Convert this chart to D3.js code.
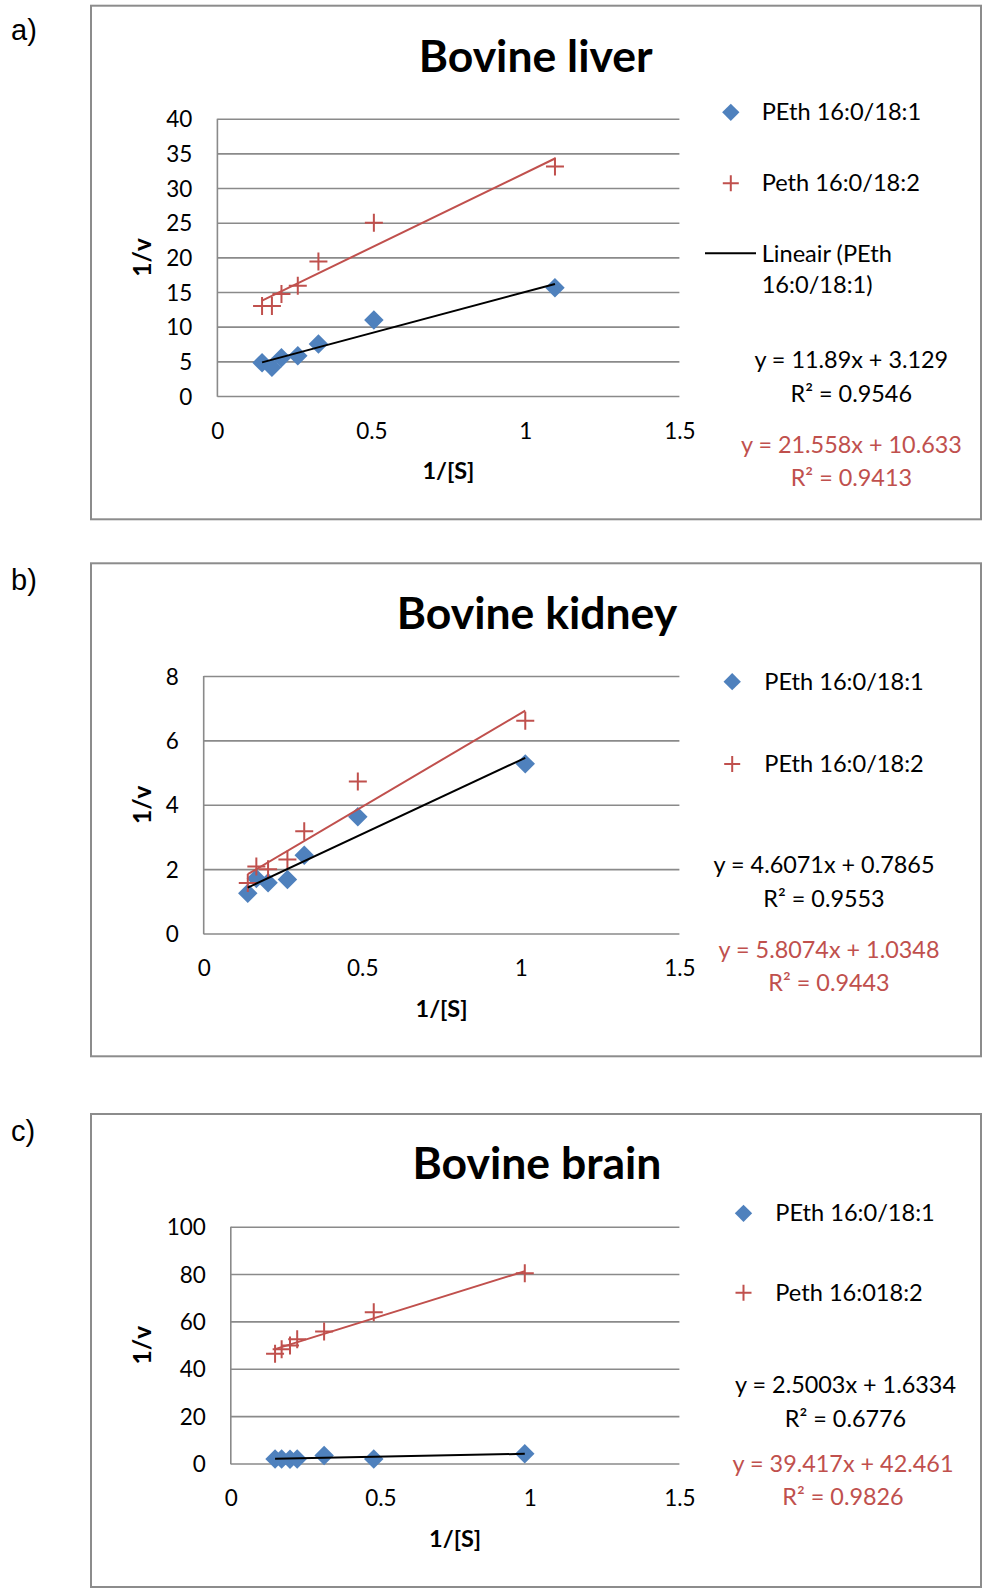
<!DOCTYPE html>
<html><head><meta charset="utf-8">
<script src="https://cdn.jsdelivr.net/npm/d3@7"></script>
<style>body{margin:0;background:#fff}svg{display:block}</style>
</head><body>
<svg id="chart" width="985" height="1591"></svg>
<script>
// ---------------- DATA ----------------
const panelLabels = ["a)", "b)", "c)"];
const titles = ["Bovine liver", "Bovine kidney", "Bovine brain"];
const xTickValues = [0, 0.5, 1, 1.5];
const xAxisTitle = "1/[S]";
const yAxisTitle = "1/v";

const liverYTicks = [0, 5, 10, 15, 20, 25, 30, 35, 40];
const liverX = [0.145, 0.177, 0.208, 0.261, 0.328, 0.508, 1.096];
const liverBlue = [4.8, 4.13, 5.5, 5.8, 7.5, 10.96, 15.6];
const liverRed = [13.0, 13.0, 14.7, 15.9, 19.4, 25.0, 33.1];
const liverFitBlue = [11.89, 3.129];
const liverFitRed = [21.558, 10.633];
const liverLegend = ["PEth 16:0/18:1", "Peth 16:0/18:2", "Lineair (PEth", "16:0/18:1)"];
const liverEqBlue = ["y = 11.89x + 3.129", "R² = 0.9546"];
const liverEqRed = ["y = 21.558x + 10.633", "R² = 0.9413"];

const kidneyYTicks = [0, 2, 4, 6, 8];
const kidneyX = [0.139, 0.166, 0.203, 0.264, 0.317, 0.486, 1.014];
const kidneyBlue = [1.25, 1.71, 1.58, 1.68, 2.43, 3.63, 5.27];
const kidneyRed = [1.57, 2.08, 2.0, 2.3, 3.18, 4.72, 6.61];
const kidneyFitBlue = [4.6071, 0.7865];
const kidneyFitRed = [5.8074, 1.0348];
const kidneyLegend = ["PEth 16:0/18:1", "PEth 16:0/18:2"];
const kidneyEqBlue = ["y = 4.6071x + 0.7865", "R² = 0.9553"];
const kidneyEqRed = ["y = 5.8074x + 1.0348", "R² = 0.9443"];

const brainYTicks = [0, 20, 40, 60, 80, 100];
const brainX = [0.148, 0.170, 0.198, 0.222, 0.312, 0.478, 0.983];
const brainBlue = [1.9, 1.9, 1.8, 1.9, 3.4, 1.9, 4.1];
const brainRed = [46.3, 48.2, 49.8, 52.5, 55.7, 63.9, 80.3];
const brainFitBlue = [2.5003, 1.6334];
const brainFitRed = [39.417, 42.461];
const brainLegend = ["PEth 16:0/18:1", "Peth 16:018:2"];
const brainEqBlue = ["y = 2.5003x + 1.6334", "R² = 0.6776"];
const brainEqRed = ["y = 39.417x + 42.461", "R² = 0.9826"];

// ---------------- STYLE / LAYOUT ----------------
const BLUE = "#4F81BD", RED = "#C0504D", GRID = "#8a8a8a", BORDER = "#8c8c8c";
const FONT = "Lato, 'Open Sans', sans-serif";

const panels = [
  { label: panelLabels[0], title: titles[0], yTicks: liverYTicks, xs: liverX, blue: liverBlue, red: liverRed,
    fitB: liverFitBlue, fitR: liverFitRed, legend: liverLegend, eqB: liverEqBlue, eqR: liverEqRed,
    box: [91, 5.7, 981, 519.3], labelY: 40, titleX: 535.7, titleY: 71.5,
    plot: { x0: 217.4, x1: 679.4, y0: 396, y1: 118.7 },
    leg: { mx: 730.8, tx: 761.7, y1: 112.3, y2: 183.3, lineY: 253.3 },
    eq: { bx: 851.3, by: 368.3, rx: 851.4, ry: 453.3 } },
  { label: panelLabels[1], title: titles[1], yTicks: kidneyYTicks, xs: kidneyX, blue: kidneyBlue, red: kidneyRed,
    fitB: kidneyFitBlue, fitR: kidneyFitRed, legend: kidneyLegend, eqB: kidneyEqBlue, eqR: kidneyEqRed,
    box: [91, 563.3, 981, 1056.3], labelY: 590, titleX: 537, titleY: 629,
    plot: { x0: 203.7, x1: 679.4, y0: 933.5, y1: 676 },
    leg: { mx: 732.2, tx: 764.3, y1: 681.7, y2: 764 },
    eq: { bx: 824, by: 873.3, rx: 829, ry: 958.3 } },
  { label: panelLabels[2], title: titles[2], yTicks: brainYTicks, xs: brainX, blue: brainBlue, red: brainRed,
    fitB: brainFitBlue, fitR: brainFitRed, legend: brainLegend, eqB: brainEqBlue, eqR: brainEqRed,
    box: [91, 1114, 981, 1587], labelY: 1141, titleX: 537, titleY: 1178.7,
    plot: { x0: 230.8, x1: 679.4, y0: 1463.5, y1: 1226.7 },
    leg: { mx: 743.5, tx: 775.3, y1: 1213.3, y2: 1292.7 },
    eq: { bx: 845.5, by: 1393.3, rx: 843, ry: 1471.7 } }
];

const svg = d3.select("#chart");
const diamond = d3.symbol(d3.symbolSquare, 190);
const diamondLeg = d3.symbol(d3.symbolSquare, 150);
const crossPath = r => `M${-r},0H${r}M0,${-r}V${r}`;

panels.forEach(p => {
  const g = svg.append("g");
  const [bx0, by0, bx1, by1] = p.box;
  g.append("rect").attr("x", bx0).attr("y", by0).attr("width", bx1 - bx0).attr("height", by1 - by0)
    .attr("fill", "#fff").attr("stroke", BORDER).attr("stroke-width", 2);

  g.append("text").attr("x", 11).attr("y", p.labelY).text(p.label)
    .attr("font-family", "'Liberation Sans', Arial, sans-serif").attr("font-size", 29).attr("fill", "#000");

  g.append("text").attr("x", p.titleX).attr("y", p.titleY).attr("text-anchor", "middle").text(p.title)
    .attr("font-family", FONT).attr("font-weight", 700).attr("font-size", 44.5).attr("fill", "#000");

  const x = d3.scaleLinear().domain([0, 1.5]).range([p.plot.x0, p.plot.x1]);
  const yMax = p.yTicks[p.yTicks.length - 1];
  const y = d3.scaleLinear().domain([0, yMax]).range([p.plot.y0, p.plot.y1]);
  const w = p.plot.x1 - p.plot.x0;

  // y axis with gridlines
  const ya = g.append("g").attr("transform", `translate(${p.plot.x0},0)`)
    .call(d3.axisLeft(y).tickValues(p.yTicks).tickSize(-w).tickPadding(25).tickFormat(d3.format("")));
  ya.select(".domain").remove();
  ya.selectAll(".tick line").attr("stroke", GRID).attr("stroke-width", 1.6);
  ya.selectAll(".tick text").attr("font-family", FONT).attr("font-size", 22.5).attr("fill", "#000").attr("dy", "0.36em");
  // vertical axis line
  g.append("line").attr("x1", p.plot.x0).attr("x2", p.plot.x0).attr("y1", y(0) + 0.8).attr("y2", y(yMax))
    .attr("stroke", GRID).attr("stroke-width", 1.6);

  // x axis labels
  const xa = g.append("g").attr("transform", `translate(0,${p.plot.y0})`)
    .call(d3.axisBottom(x).tickValues(xTickValues).tickSize(0).tickPadding(0).tickFormat(d3.format("")));
  xa.select(".domain").remove();
  xa.selectAll(".tick line").remove();
  xa.selectAll(".tick text").attr("font-family", FONT).attr("font-size", 22.5).attr("fill", "#000")
    .attr("dy", 0).attr("y", 42.5);

  // axis titles
  g.append("text").attr("x", (p.plot.x0 + p.plot.x1) / 2).attr("y", p.plot.y0 + 83).attr("text-anchor", "middle")
    .text(xAxisTitle).attr("font-family", FONT).attr("font-weight", 700).attr("font-size", 23.5).attr("fill", "#000");
  g.append("text").attr("transform", `translate(151,${(p.plot.y0 + p.plot.y1) / 2}) rotate(-90)`)
    .attr("text-anchor", "middle").text(yAxisTitle)
    .attr("font-family", FONT).attr("font-weight", 700).attr("font-size", 24.5).attr("fill", "#000");

  // points
  const ptsB = p.xs.map((v, i) => [v, p.blue[i]]);
  const ptsR = p.xs.map((v, i) => [v, p.red[i]]);
  g.append("g").selectAll("path").data(ptsB).join("path")
    .attr("d", diamond).attr("transform", d => `translate(${x(d[0])},${y(d[1])}) rotate(45)`)
    .attr("fill", BLUE);
  g.append("g").selectAll("path").data(ptsR).join("path")
    .attr("d", crossPath(9)).attr("transform", d => `translate(${x(d[0])},${y(d[1])})`)
    .attr("fill", "none").attr("stroke", RED).attr("stroke-width", 2);

  // trend lines
  const xmin = d3.min(p.xs), xmax = d3.max(p.xs);
  const line = d3.line().x(d => x(d[0])).y(d => y(d[1]));
  const fitPts = f => [[xmin, f[0] * xmin + f[1]], [xmax, f[0] * xmax + f[1]]];
  g.append("path").attr("d", line(fitPts(p.fitR))).attr("stroke", RED).attr("stroke-width", 2).attr("fill", "none");
  g.append("path").attr("d", line(fitPts(p.fitB))).attr("stroke", "#000").attr("stroke-width", 2).attr("fill", "none");

  // legend
  const L = p.leg;
  g.append("path").attr("d", diamondLeg).attr("transform", `translate(${L.mx},${L.y1}) rotate(45)`).attr("fill", BLUE);
  g.append("path").attr("d", crossPath(8)).attr("transform", `translate(${L.mx},${L.y2})`)
    .attr("stroke", RED).attr("stroke-width", 2).attr("fill", "none");
  const lt = (tx, ty, s, col) => g.append("text").attr("x", tx).attr("y", ty).text(s)
    .attr("font-family", FONT).attr("font-size", 23.6).attr("fill", col || "#000");
  lt(L.tx, L.y1 + 8, p.legend[0]);
  lt(L.tx, L.y2 + 8, p.legend[1]);
  if (p.legend.length > 2) {
    g.append("line").attr("x1", 705).attr("x2", 756).attr("y1", L.lineY).attr("y2", L.lineY)
      .attr("stroke", "#000").attr("stroke-width", 2);
    lt(L.tx, L.lineY + 8.4, p.legend[2]);
    lt(L.tx, L.lineY + 40, p.legend[3]);
  }

  // equations
  const E = p.eq;
  const et = (tx, ty, s, col) => g.append("text").attr("x", tx).attr("y", ty).attr("text-anchor", "middle").text(s)
    .attr("font-family", FONT).attr("font-size", 23.4).attr("fill", col);
  et(E.bx, E.by, p.eqB[0], "#000");
  et(E.bx, E.by + 33.4, p.eqB[1], "#000");
  et(E.rx, E.ry, p.eqR[0], RED);
  et(E.rx, E.ry + 33, p.eqR[1], RED);
});
</script>
</body></html>
